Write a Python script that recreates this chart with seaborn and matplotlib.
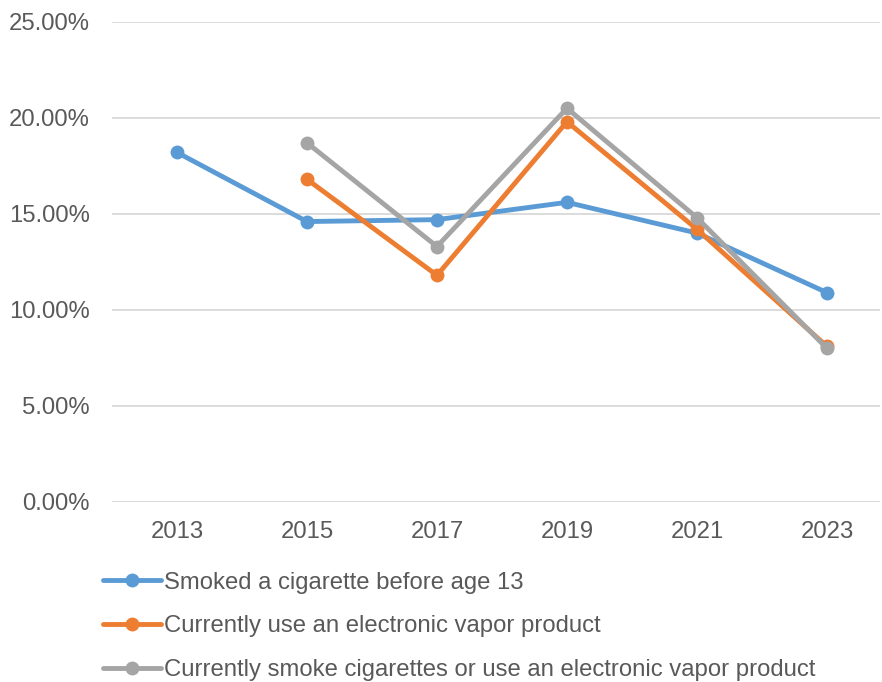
import matplotlib
matplotlib.use("Agg")
import matplotlib.pyplot as plt
import numpy as np
import pandas as pd
import seaborn as sns
from matplotlib.lines import Line2D
from matplotlib.ticker import PercentFormatter

years = ["2013", "2015", "2017", "2019", "2021", "2023"]
smoked_before_13 = [18.2, 14.6, 14.7, 15.6, 14.0, 10.9]
vapor_current = [np.nan, 16.8, 11.8, 19.8, 14.2, 8.1]
cig_or_vapor_current = [np.nan, 18.7, 13.3, 20.5, 14.8, 8.0]

series_names = [
    "Smoked a cigarette before age 13",
    "Currently use an electronic vapor product",
    "Currently smoke cigarettes or use an electronic vapor product",
]
series_values = [smoked_before_13, vapor_current, cig_or_vapor_current]
colors = ["#5B9BD5", "#ED7D31", "#A5A5A5"]

frames = []
for name, vals in zip(series_names, series_values):
    frames.append(pd.DataFrame({"pos": range(len(years)), "year": years,
                                "value": vals, "series": name}))
df = pd.concat(frames, ignore_index=True).dropna()

sns.set_theme(style="white")
plt.rcParams["font.family"] = ["Liberation Sans", "DejaVu Sans"]

FS = 17.2

fig = plt.figure(figsize=(8.82, 6.82), dpi=100)
ax = fig.add_axes([0.127, 0.264, 0.871, 0.704])

for name, col in zip(series_names, colors):
    sub = df[df["series"] == name]
    sns.lineplot(data=sub, x="pos", y="value", ax=ax, color=col,
                 linewidth=3.5, marker="o", markersize=10,
                 markeredgewidth=0, markerfacecolor=col, legend=False)

ax.set_xlim(-0.5, 5.41)
ax.set_ylim(0, 25)
ax.set_yticks(np.arange(0, 26, 5))
ax.yaxis.set_major_formatter(PercentFormatter(decimals=2))
ax.set_xticks(range(len(years)))
ax.set_xticklabels(years)
ax.grid(axis="y", color="#D9D9D9", linewidth=1.3)
ax.set_axisbelow(True)
for s in ax.spines.values():
    s.set_visible(False)
ax.tick_params(axis="both", length=0, labelsize=FS, colors="#595959")
ax.tick_params(axis="y", pad=16)
ax.tick_params(axis="x", pad=14)
ax.set_xlabel("")
ax.set_ylabel("")

handles = [Line2D([0], [0], color=c, linewidth=3.5, marker="o", markersize=10,
                  markeredgewidth=0) for c in colors]
fig.legend(handles, series_names, loc="upper left",
           bbox_to_anchor=(0.117, 0.162), frameon=False, fontsize=FS,
           labelcolor="#595959", handlelength=2.4, handletextpad=0.13,
           labelspacing=0.92, borderaxespad=0, borderpad=0)

fig.savefig("out.png", dpi=100)
